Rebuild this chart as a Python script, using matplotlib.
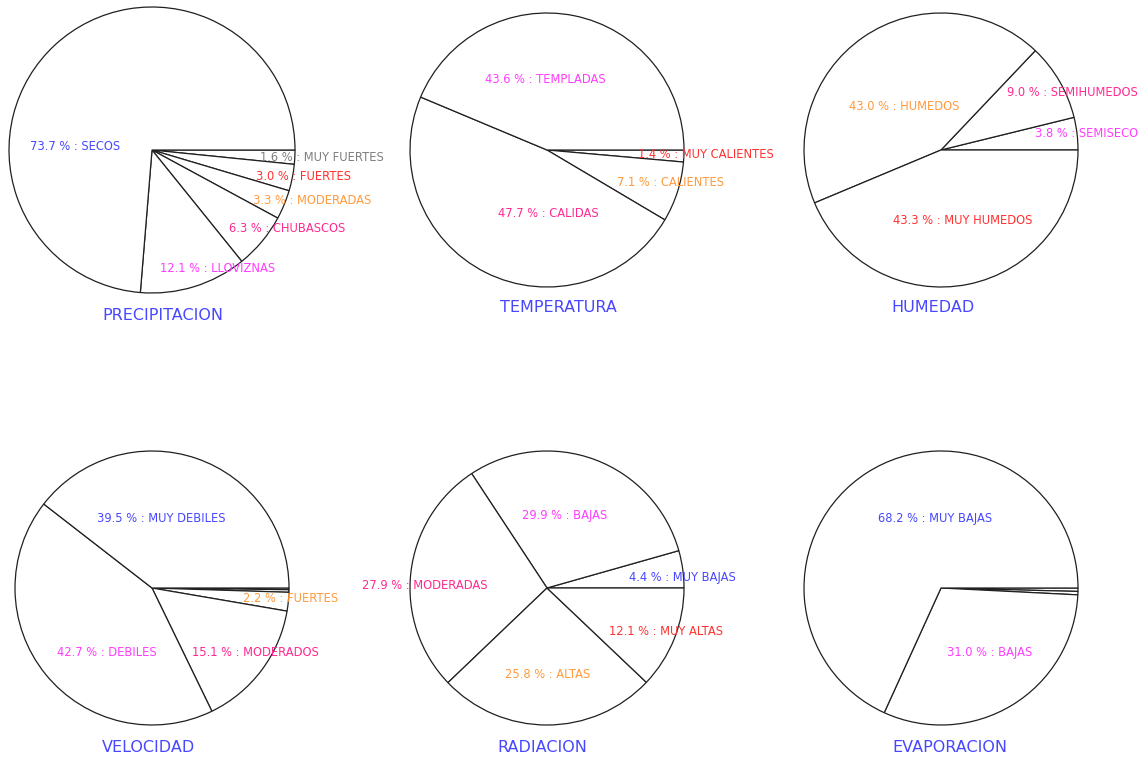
import matplotlib
matplotlib.use("Agg")
import matplotlib.pyplot as plt

plt.rcParams['font.family'] = ['DejaVu Sans']

W, H = 1144, 757

BLUE = '#4747ff'
MAGENTA = '#ff3cff'
PINK = '#ff2a90'
ORANGE = '#ff9a3c'
RED = '#ff3030'
GRAY = '#7f7f7f'

# ---------------- data ----------------
prec_labels = ['MUY FUERTES', 'FUERTES', 'MODERADAS', 'CHUBASCOS', 'LLOVIZNAS', 'SECOS']
prec_values = [1.6, 3.0, 3.3, 6.3, 12.1, 73.7]
prec_colors = [GRAY, RED, ORANGE, PINK, MAGENTA, BLUE]

temp_labels = ['MUY CALIENTES', 'CALIENTES', 'CALIDAS', 'TEMPLADAS']
temp_values = [1.4, 7.1, 47.7, 43.6]
temp_colors = [RED, ORANGE, PINK, MAGENTA]

hum_labels = ['', 'SEMISECO', 'SEMIHUMEDOS', 'HUMEDOS', 'MUY HUMEDOS']
hum_values = [0.0, 3.8, 9.0, 43.0, 43.3]
hum_colors = [BLUE, MAGENTA, PINK, ORANGE, RED]

vel_labels = ['', '', 'FUERTES', 'MODERADOS', 'DEBILES', 'MUY DEBILES']
vel_values = [0.2, 0.3, 2.2, 15.1, 42.7, 39.5]
vel_colors = [RED, PINK, ORANGE, PINK, MAGENTA, BLUE]

rad_labels = ['MUY BAJAS', 'BAJAS', 'MODERADAS', 'ALTAS', 'MUY ALTAS']
rad_values = [4.4, 29.9, 27.9, 25.8, 12.1]
rad_colors = [BLUE, MAGENTA, PINK, ORANGE, RED]

evap_labels = ['', '', 'BAJAS', 'MUY BAJAS']
evap_values = [0.4, 0.4, 31.0, 68.2]
evap_colors = [RED, ORANGE, MAGENTA, BLUE]

titles = ['PRECIPITACION', 'TEMPERATURA', 'HUMEDAD', 'VELOCIDAD', 'RADIACION', 'EVAPORACION']

# ---------------- layout (pixels / pie units) ----------------
charts = [
    dict(labels=prec_labels, values=prec_values, colors=prec_colors,
         center=(152, 150), r=143, ccw=False, title_pos=(163, 316),
         label_pos=[(0.755, -0.049), (0.727, -0.182), (0.706, -0.350),
                    (0.538, -0.552), (0.056, -0.832), (-0.853, 0.021)]),
    dict(labels=temp_labels, values=temp_values, colors=temp_colors,
         center=(547, 150), r=137, ccw=False, title_pos=(558, 308),
         label_pos=[(0.664, -0.036), (0.511, -0.234), (-0.358, -0.467), (-0.452, 0.518)]),
    dict(labels=hum_labels, values=hum_values, colors=hum_colors,
         center=(941, 150), r=137, ccw=True, title_pos=(933, 308),
         label_pos=[None, (0.686, 0.124), (0.482, 0.423), (-0.672, 0.321), (-0.350, -0.518)]),
    dict(labels=vel_labels, values=vel_values, colors=vel_colors,
         center=(152, 588), r=137, ccw=False, title_pos=(149, 747),
         label_pos=[None, None, (0.664, -0.080), (0.292, -0.474), (-0.693, -0.474), (-0.401, 0.504)]),
    dict(labels=rad_labels, values=rad_values, colors=rad_colors,
         center=(547, 588), r=137, ccw=True, title_pos=(542, 747),
         label_pos=[(0.599, 0.080), (-0.182, 0.526), (-1.350, 0.015), (-0.307, -0.628), (0.453, -0.314)]),
    dict(labels=evap_labels, values=evap_values, colors=evap_colors,
         center=(941, 588), r=137, ccw=False, title_pos=(950, 747),
         label_pos=[None, None, (0.044, -0.474), (-0.460, 0.504)]),
]

fig = plt.figure(figsize=(W / 100, H / 100), dpi=100)
fig.patch.set_facecolor('white')
ax = fig.add_axes([0, 0, 1, 1])

for ch, title in zip(charts, titles):
    cx, cy = ch['center']
    cy = H - cy
    r = ch['r']
    ax.pie(ch['values'], center=(cx, cy), radius=r, startangle=0,
           counterclock=ch['ccw'], normalize=True,
           wedgeprops=dict(facecolor='white', edgecolor='#202020', linewidth=0.9))
    for lab, val, col, pos in zip(ch['labels'], ch['values'], ch['colors'], ch['label_pos']):
        if pos is None or not lab:
            continue
        ax.text(cx + pos[0] * r, cy + pos[1] * r, f"{val:.1f} % : {lab}",
                color=col, fontsize=8.3, ha='left', va='center', zorder=10)
    tx, ty = ch['title_pos']
    ax.text(tx, H - ty, title, color=BLUE, fontsize=11.5, ha='center', va='center', zorder=10)

ax.set_xlim(0, W)
ax.set_ylim(0, H)
ax.set_aspect('equal')
ax.axis('off')

fig.savefig('out.png', dpi=100, facecolor='white')
